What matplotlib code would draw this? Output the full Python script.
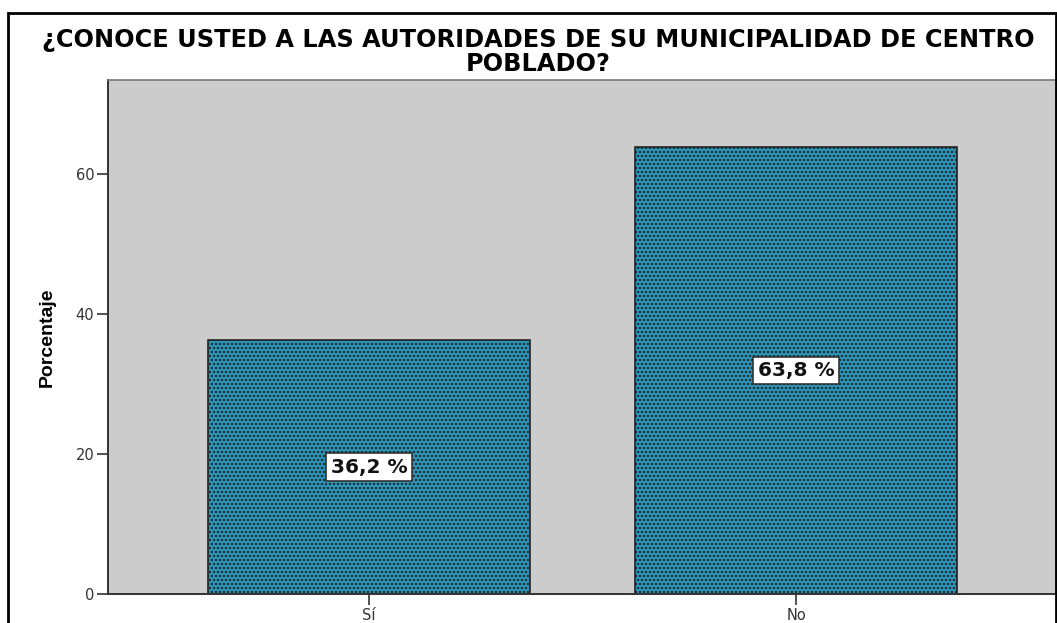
import matplotlib
matplotlib.use("Agg")
import matplotlib.pyplot as plt
from matplotlib.patches import Rectangle

categories = ["Sí", "No"]
percentages = [36.2, 63.8]
value_labels = ["36,2 %", "63,8 %"]
y_ticks = [0, 20, 40, 60]
title = "¿CONOCE USTED A LAS AUTORIDADES DE SU MUNICIPALIDAD DE CENTRO\nPOBLADO?"
y_label = "Porcentaje"

DPI = 96
S = 100 / DPI  # keep point sizes equivalent to a 100-dpi layout

plt.rcParams['font.family'] = ['DejaVu Sans']
plt.rcParams['hatch.linewidth'] = 1.3
plt.rcParams['hatch.color'] = '#1b5f78'

W, H = 1057, 623
fig = plt.figure(figsize=((W + 0.2) / DPI, (H + 0.2) / DPI), dpi=DPI)
fig.patch.set_facecolor('white')

# outer frame
fig.patches.append(Rectangle((8 / W, -0.1), (1056 - 8) / W, 0.1 + (H - 13) / H,
                             transform=fig.transFigure, fill=False,
                             edgecolor='black', linewidth=2 * S, zorder=0))

ax = fig.add_axes([108 / W, (H - 594) / H, (1056 - 108) / W, (594 - 80) / H])
ax.set_facecolor('#cccccc')

x = list(range(len(categories)))
bars = ax.bar(x, percentages, width=0.752, color='#2b9ac0', edgecolor='#222222',
              linewidth=1.2 * S, hatch='....', zorder=2)

for xi, v, lab in zip(x, percentages, value_labels):
    ax.text(xi, v / 2, lab, ha='center', va='center', fontsize=14.5 * S, fontweight='bold',
            color='#111111', zorder=3,
            bbox=dict(boxstyle='square,pad=0.22', facecolor='white',
                      edgecolor='#333333', linewidth=1.2 * S))

ax.set_xlim(-0.611, 1.609)
ax.set_ylim(0, 73.4)
ax.set_yticks(y_ticks)
ax.set_yticklabels([str(t) for t in y_ticks])
ax.set_xticks(x)
ax.set_xticklabels(categories)
ax.tick_params(axis='both', direction='out', length=8 * S, width=1.2 * S, color='#333333',
               labelsize=10.5 * S, labelcolor='#333333', pad=2 * S)

for side in ['left', 'bottom']:
    ax.spines[side].set_color('#333333')
    ax.spines[side].set_linewidth(1.4 * S)
for side in ['top', 'right']:
    ax.spines[side].set_color('#777777')
    ax.spines[side].set_linewidth(1.2 * S)

ax.set_ylabel(y_label, fontsize=14 * S, fontweight='bold', labelpad=14 * S, color='black',
              family=['Liberation Sans', 'DejaVu Sans'])

title_lines = title.split("\n")
title_y = [40, 64]
for line, yy in zip(title_lines, title_y):
    fig.text(538 / W, (H - yy) / H, line, ha='center', va='center', fontsize=17.3 * S,
             fontweight='bold', color='black')

fig.savefig('out.png', dpi=DPI)
